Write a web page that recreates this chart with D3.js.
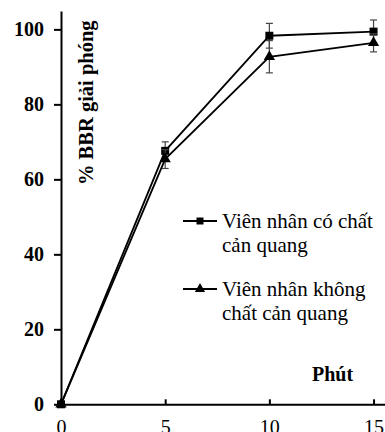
<!DOCTYPE html>
<html>
<head>
<meta charset="utf-8">
<script src="https://cdn.jsdelivr.net/npm/d3@7"></script>
<style>
  body { margin: 0; background: #fff; }
  svg { display: block; }
  svg text { font-family: "Liberation Serif", "Times New Roman", serif !important; fill: #000; }
</style>
</head>
<body>
<svg id="chart" width="385" height="432"></svg>
<script>
// time points (phut)
const minutes = [0, 5, 10, 15]
// % BBR released
const withContrast = [0, 67.6, 98.3, 99.4]
const withContrastErr = [0, 2.4, 3.3, 3.1]
const noContrast = [0, 65.4, 92.7, 96.4]
const noContrastErr = [0, 2.5, 4.3, 2.4]
const yTicks = [0, 20, 40, 60, 80, 100]
const xTicks = [0, 5, 10, 15]
const legendLabels = [["Viên nhân có chất", "cản quang"], ["Viên nhân không", "chất cản quang"]]

const svg = d3.select("#chart")

const x = d3.scaleLinear().domain([0, 15.55]).range([61, 385])
const y = d3.scaleLinear().domain([0, 104.9]).range([404.3, 11])

// axes
const yAxis = svg.append("g")
    .attr("transform", "translate(61,0)")
    .call(d3.axisLeft(y).tickValues(yTicks).tickSize(7).tickSizeOuter(0).tickPadding(10))
yAxis.select(".domain").attr("stroke-width", 2)
yAxis.selectAll(".tick line").attr("stroke-width", 2)
yAxis.selectAll("text")
    .attr("font-size", 20).attr("font-weight", "bold")

const xAxis = svg.append("g")
    .attr("transform", "translate(0,404.3)")
    .call(d3.axisBottom(x).tickValues(xTicks).tickSize(-5).tickSizeOuter(0).tickPadding(16))
xAxis.select(".domain").attr("stroke-width", 2)
xAxis.selectAll(".tick line").attr("stroke-width", 2)
xAxis.selectAll("text")
    .attr("font-size", 20)

// axis titles
svg.append("text")
    .attr("transform", "translate(93,185) rotate(-90)")
    .attr("font-size", 20.5).attr("font-weight", "bold")
    .text("% BBR giải phóng")

svg.append("text")
    .attr("x", 312).attr("y", 381)
    .attr("font-size", 20).attr("font-weight", "bold")
    .text("Phút")

const series = [
  { vals: withContrast, err: withContrastErr, sym: d3.symbolSquare, size: 64 },
  { vals: noContrast, err: noContrastErr, sym: d3.symbolTriangle, size: 55 }
]

const line = d3.line().x((d, i) => x(minutes[i])).y(d => y(d))

series.forEach(s => {
  // error bars
  const g = svg.append("g")
  minutes.forEach((m, i) => {
    if (!s.err[i]) return
    const cx = x(m)
    const top = y(s.vals[i] + s.err[i]), bot = y(s.vals[i] - s.err[i])
    g.append("line").attr("x1", cx).attr("x2", cx).attr("y1", top).attr("y2", bot)
      .attr("stroke", "#444").attr("stroke-width", 1.2)
    ;[top, bot].forEach(yy => g.append("line")
      .attr("x1", cx - 3.5).attr("x2", cx + 3.5).attr("y1", yy).attr("y2", yy)
      .attr("stroke", "#444").attr("stroke-width", 1.2))
  })
  svg.append("path").datum(s.vals)
    .attr("d", line).attr("fill", "none")
    .attr("stroke", "#000").attr("stroke-width", 1.8)
  svg.append("g").selectAll("path").data(s.vals).join("path")
    .attr("transform", (d, i) => `translate(${x(minutes[i])},${y(d)})`)
    .attr("d", d3.symbol(s.sym, s.size)).attr("fill", "#000")
})

// legend
const legendY = [221, 289]
legendLabels.forEach((lab, i) => {
  const g = svg.append("g").attr("transform", `translate(183,${legendY[i]})`)
  g.append("line").attr("x1", 0).attr("x2", 34).attr("stroke", "#000").attr("stroke-width", 1.8)
  g.append("path").attr("transform", "translate(17,0)")
    .attr("d", d3.symbol(series[i].sym, i == 0 ? 49 : 45)).attr("fill", "#000")
  g.append("text").attr("x", 39).attr("y", 7).attr("font-size", 21).text(lab[0])
  g.append("text").attr("x", 39).attr("y", 31).attr("font-size", 21).text(lab[1])
})
</script>
</body>
</html>
